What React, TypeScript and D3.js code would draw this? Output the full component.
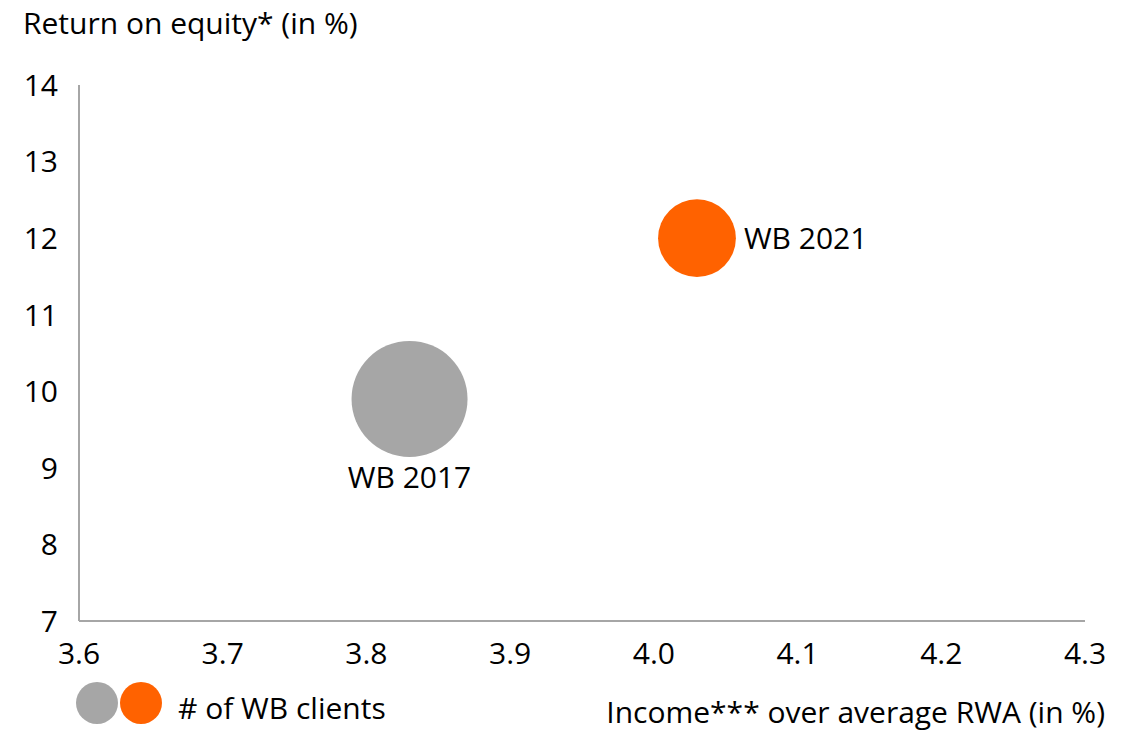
import React from 'react';
import * as d3 from 'd3';

// bubble data
const labels = ['WB 2017', 'WB 2021'];
const incomeOverRwa = [3.83, 4.03];
const returnOnEquity = [9.9, 12.0];
const clientCount = [100, 45]; // relative # of WB clients
const colors = ['#a6a6a6', '#ff6200'];

const xTicks = [3.6, 3.7, 3.8, 3.9, 4.0, 4.1, 4.2, 4.3];
const yTicks = [7, 8, 9, 10, 11, 12, 13, 14];

const width = 1137;
const height = 731;
const margin = { top: 85, right: 52, bottom: 110, left: 79 };
const font = '"Open Sans", sans-serif';
const fs = 30;

const App = () => {
  const x = d3.scaleLinear()
    .domain([3.6, 4.3])
    .range([margin.left, width - margin.right]);
  const y = d3.scaleLinear()
    .domain([7, 14])
    .range([height - margin.bottom, margin.top]);
  const r = d3.scaleSqrt().domain([0, 100]).range([0, 58]);

  const x0 = x(3.6);
  const y0 = y(7);

  return (
    <svg width={width} height={height} style={{ position: 'absolute', left: 0, top: 0 }}
      fontFamily={font} fill="#000">
      <text x={23} y={34} fontSize={fs}>Return on equity* (in %)</text>

      {/* axes */}
      <line x1={x0} x2={x0} y1={y(14)} y2={y0} stroke="#a6a6a6" strokeWidth={2} />
      <line x1={x0} x2={x(4.3)} y1={y0} y2={y0} stroke="#a6a6a6" strokeWidth={2} />

      {yTicks.map(t => (
        <text key={t} x={58} y={y(t)} dy="0.36em" textAnchor="end" fontSize={fs}>{t}</text>
      ))}
      {xTicks.map(t => (
        <text key={t} x={x(t)} y={664} textAnchor="middle" fontSize={fs}>{t.toFixed(1)}</text>
      ))}

      {/* bubbles */}
      {labels.map((l, i) => (
        <circle key={l} cx={x(incomeOverRwa[i])} cy={y(returnOnEquity[i])}
          r={r(clientCount[i])} fill={colors[i]} />
      ))}
      <text x={x(incomeOverRwa[0])} y={y(returnOnEquity[0]) + r(clientCount[0]) + 31}
        textAnchor="middle" fontSize={fs}>{labels[0]}</text>
      <text x={x(incomeOverRwa[1]) + r(clientCount[1]) + 8} y={y(returnOnEquity[1])}
        dy="0.36em" fontSize={fs}>{labels[1]}</text>

      {/* legend */}
      <circle cx={97} cy={703} r={21} fill={colors[0]} />
      <circle cx={141} cy={703} r={21} fill={colors[1]} />
      <text x={178} y={719} fontSize={fs}># of WB clients</text>

      <text x={1105} y={723} textAnchor="end" fontSize={fs}>Income*** over average RWA (in %)</text>
    </svg>
  );
};

export default App;
